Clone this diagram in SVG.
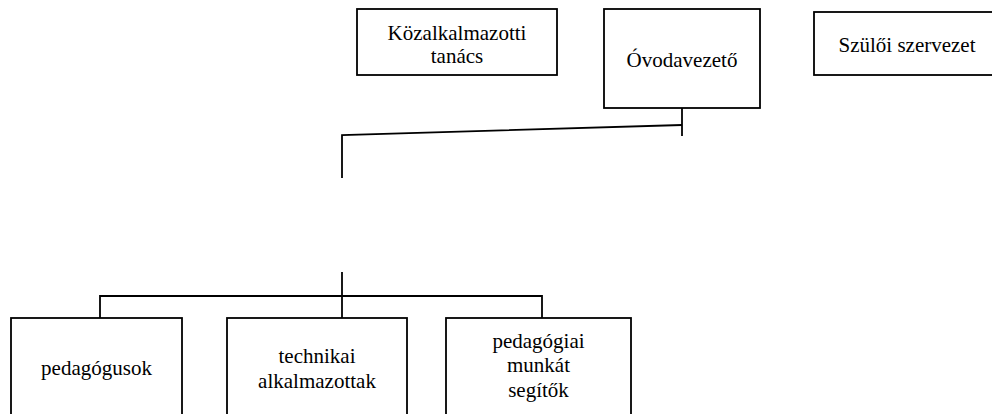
<svg xmlns="http://www.w3.org/2000/svg" width="992" height="414" viewBox="0 0 992 414">
<style>
.box{fill:#fff;stroke:#000;stroke-width:1.8}
.ln{fill:none;stroke:#000;stroke-width:1.8}
.t{font-family:'Liberation Serif','Times New Roman',Times,serif;font-size:21px;fill:#000;text-anchor:middle}
</style>
<rect width="992" height="414" fill="#fff"/>
<g id="connectors">
<path class="ln" d="M682,108 V136"/>
<path class="ln" d="M682,125 L342,135 V178"/>
<path class="ln" d="M342,272 V318"/>
<path class="ln" d="M100,318 V296 H542 V318"/>
</g>
<g id="kozalkalmazotti">
<rect class="box" x="357" y="9" width="200" height="66"/>
<text class="t" font-family="Liberation Serif, serif" x="457" y="40">Közalkalmazotti</text>
<text class="t" font-family="Liberation Serif, serif" x="457" y="63">tanács</text>
</g>
<g id="ovodavezeto">
<rect class="box" x="604" y="9" width="156" height="99"/>
<text class="t" font-family="Liberation Serif, serif" x="682" y="67">Óvodavezető</text>
</g>
<g id="szuloi">
<rect class="box" x="814" y="12" width="190" height="63"/>
<text class="t" font-family="Liberation Serif, serif" x="907" y="52">Szülői szervezet</text>
</g>
<g id="pedagogusok">
<rect class="box" x="11" y="318" width="171" height="110"/>
<text class="t" font-family="Liberation Serif, serif" x="96.5" y="375">pedagógusok</text>
</g>
<g id="technikai">
<rect class="box" x="227" y="318" width="180" height="110"/>
<text class="t" font-family="Liberation Serif, serif" x="317" y="363">technikai</text>
<text class="t" font-family="Liberation Serif, serif" x="317" y="388">alkalmazottak</text>
</g>
<g id="pedagogiai">
<rect class="box" x="446" y="318" width="185" height="110"/>
<text class="t" font-family="Liberation Serif, serif" x="538.5" y="348">pedagógiai</text>
<text class="t" font-family="Liberation Serif, serif" x="538.5" y="372">munkát</text>
<text class="t" font-family="Liberation Serif, serif" x="538.5" y="397">segítők</text>
</g>
</svg>
